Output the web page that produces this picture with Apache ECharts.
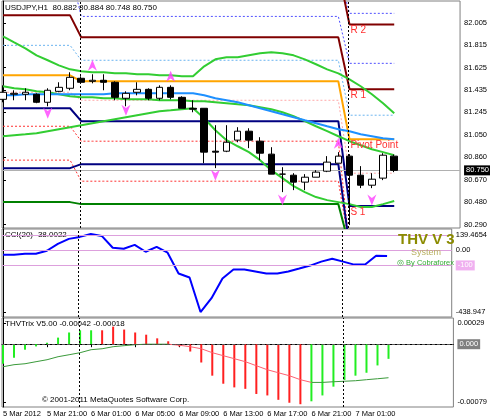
<!DOCTYPE html>
<html><head><meta charset="utf-8">
<script src="https://cdn.jsdelivr.net/npm/echarts@6/dist/echarts.min.js"></script>
<style>html,body{margin:0;padding:0;background:#fff}#c{width:490px;height:420px}</style>
</head><body><div id="c"></div>
<script>
// ---- data ----
const timeLabels = ["5 Mar 2012","5 Mar 21:00","6 Mar 01:00","6 Mar 05:00","6 Mar 09:00","6 Mar 13:00","6 Mar 17:00","6 Mar 21:00","7 Mar 01:00"];
const timeLabelBars = [0,4,8,12,16,20,24,28,32];
// [open, close, low, high]
const candles = [
[81.354,81.414,81.329,81.473],[81.397,81.405,81.346,81.431],[81.397,81.414,81.346,81.448],[81.397,81.329,81.321,81.405],
[81.329,81.431,81.295,81.448],[81.422,81.456,81.414,81.499],[81.448,81.541,81.431,81.584],[81.533,81.499,81.499,81.550],
[81.507,81.516,81.490,81.567],[81.516,81.499,81.431,81.567],[81.499,81.371,81.346,81.507],[81.363,81.405,81.295,81.422],
[81.414,81.439,81.388,81.499],[81.439,81.363,81.346,81.448],[81.363,81.456,81.346,81.473],[81.456,81.371,81.354,81.473],
[81.371,81.278,81.278,81.380],[81.278,81.270,81.244,81.346],[81.278,80.905,80.811,81.278],[80.913,80.905,80.769,81.134],
[80.913,80.989,80.905,81.134],[81.007,81.083,80.989,81.117],[81.083,81.007,80.939,81.108],[80.998,80.896,80.837,81.032],
[80.888,80.718,80.718,80.947],[80.718,80.718,80.565,80.777],[80.709,80.650,80.582,80.726],[80.650,80.692,80.582,80.718],
[80.692,80.735,80.692,80.752],[80.743,80.820,80.735,80.871],[80.811,80.871,80.811,80.905],[80.871,80.709,80.285,80.888],
[80.709,80.624,80.599,80.786],[80.624,80.675,80.599,80.726],[80.684,80.879,80.667,80.896],[80.871,80.750,80.735,80.884]];
const bandUpper = [81.889,81.838,81.788,81.728,81.686,81.643,81.609,81.592,81.584,81.584,81.575,81.575,81.567,81.567,81.558,81.558,81.550,81.550,81.635,81.694,81.711,81.711,81.728,81.745,81.754,81.745,81.728,81.694,81.652,81.609,81.575,81.524,81.465,81.397,81.321,81.236];
const bandMiddle = [81.465,81.448,81.439,81.422,81.414,81.397,81.380,81.371,81.371,81.363,81.363,81.354,81.354,81.354,81.346,81.346,81.346,81.337,81.337,81.329,81.321,81.312,81.304,81.287,81.270,81.244,81.210,81.168,81.125,81.083,81.040,80.998,80.964,80.930,80.905,80.879];
const bandLower = [81.040,81.049,81.057,81.066,81.083,81.100,81.117,81.134,81.151,81.168,81.185,81.202,81.219,81.236,81.253,81.261,81.270,81.278,81.193,81.091,81.007,80.955,80.905,80.837,80.752,80.684,80.616,80.565,80.523,80.497,80.480,80.463,80.438,80.438,80.463,80.489];
const maLine = [81.388,81.388,81.397,81.397,81.397,81.397,81.397,81.397,81.397,81.397,81.405,81.405,81.405,81.405,81.405,81.405,81.405,81.405,81.388,81.363,81.346,81.329,81.304,81.278,81.253,81.227,81.202,81.176,81.151,81.125,81.100,81.083,81.057,81.040,81.023,81.015];
const barDay = [0,0,0,0,0,0,0, 1,1,1,1,1,1,1,1,1,1,1,1,1,1,1,1,1,1,1,1,1,1,1,1, 2,2,2,2,2];
const lvR2   = [82.45, 82.45, 81.990];
const lvM5   = [82.45, 82.45, 82.085];
const lvM4   = [82.45, 82.059, 81.660];
const lvR1   = [82.068, 81.881, 81.439];
const lvM3   = [81.813, 81.686, 81.219];
const lvP    = [81.558, 81.507, 81.015];
const lvM2   = [81.414, 81.346, 80.726];
const lvS1   = [81.278, 81.168, 80.446];
const lvM1   = [81.125, 80.998, 80.10];
const lvS2   = [80.769, 80.803, 80.10];
const lvM0   = [80.837, 80.658, 80.10];
const lvS3   = [80.480, 80.463, 80.10];
const upArrows = [[8,81.643],[15,81.550],[30,80.981]];
const downArrows = [[4,81.236],[11,81.261],[19,80.709],[25,80.497],[33,80.497]];
const lastPrice = 80.750;
const daySep = [6.9, 30.9];
const priceTicks = [82.005,81.815,81.625,81.435,81.245,81.050,80.860,80.670,80.480,80.290];
const cci = [-29.5,-29.5,-23.0,-23.0,-3.5,42.0,74.5,87.5,107.0,94.0,16.0,9.5,35.5,-10.0,22.5,-16.5,-152.9,-178.9,-406.4,-315.4,-185.4,-126.9,-126.9,-139.9,-152.9,-152.9,-139.9,-120.5,-100.9,-75.0,-55.5,-75.0,-94.5,-94.5,-36.0,-38.0];
const cciLevels = [100, 0, -100];
const trixHist = [-0.000267,-0.000185,-0.000075,-0.00003,0.00002,0.00009,0.00016,0.00019,0.00019,0.00019,0.00024,0.0002,0.00016,0.00013,0.00008,0.00004,-0.00003,-0.0001,-0.00025,-0.00043,-0.00054,-0.00059,-0.00061,-0.00068,-0.0007,-0.00076,-0.0008,-0.00082,-0.00078,-0.0007,-0.00058,-0.00049,-0.00043,-0.00039,-0.00029,-0.0002];
const trixUp = [1,1,1,1,1,1,1,1,1,0,0,0,0,0,0,0,0,0,0,0,0,0,0,0,0,0,0,0,1,1,1,1,1,1,1,1];
const trixSignal = [-0.000308,-0.00028,-0.000267,-0.000239,-0.000212,-0.000171,-0.000144,-0.000116,-0.000075,-0.000062,-0.000034,-0.00002,-0.000007,0,0,0,-0.000014,-0.000034,-0.000062,-0.000116,-0.000157,-0.000198,-0.000239,-0.000294,-0.000349,-0.00039,-0.000431,-0.000485,-0.000522,-0.000522,-0.000513,-0.000506,-0.000499,-0.000485,-0.000472,-0.000458];
const trixSignalUp = [1,1,1,1,1,1,1,1,1,1,1,1,1,1,1,1,0,0,0,0,0,0,0,0,0,0,0,0,1,1,1,1,1,1,1,1];

// ---- chart ----
const F = '"Liberation Sans", Arial, sans-serif';
const chart = echarts.init(document.getElementById('c'), null, {renderer:'canvas'});
const XMIN = -0.09, XMAX = 40.89;
const grids = [
  {left:2, right:29, top:1, height:227},
  {left:2, right:29, top:229, height:88},
  {left:2, right:29, top:318, height:89}
];
function xAx(i, show){
  return {type:'value', gridIndex:i, min:XMIN, max:XMAX, splitLine:{show:false},
    axisLine:{show:show, lineStyle:{color:'#000'}}, axisTick:{show:show, customValues:timeLabelBars, length:3, lineStyle:{color:'#000'}},
    axisLabel:{show:show, customValues:timeLabelBars, showMinLabel:true, hideOverlap:false, align:'left', margin:3, fontSize:7.5, color:'#000', fontFamily:F,
      formatter:v=>timeLabels[timeLabelBars.indexOf(Math.round(v))]||''}};
}
const yLab = {fontSize:7.5, color:'#000', fontFamily:F, margin:4};
const yAxes = [
  {type:'value', gridIndex:0, position:'right', min:80.26, max:82.19, splitLine:{show:false},
   axisLine:{show:true,lineStyle:{color:'#000'}}, axisTick:{show:true,length:3,customValues:priceTicks},
   axisLabel:Object.assign({customValues:priceTicks, formatter:v=>v.toFixed(3)}, yLab)},
  {type:'value', gridIndex:1, position:'right', min:-438.947, max:139.4654, splitLine:{show:false},
   axisLine:{show:true,lineStyle:{color:'#000'}}, axisTick:{show:true,length:3,customValues:[100,0,-100,-406]},
   axisLabel:Object.assign({customValues:[100,0,-100,-406],
     formatter:v=>({100:'139.4654',0:'0.00','-100':'{p|-100}','-406':'-438.947'})[Math.round(v)]||'',
     rich:{p:{backgroundColor:'#f0b0f0', color:'#fff', fontSize:7.5, padding:[1,2]}}}, yLab)},
  {type:'value', gridIndex:2, position:'right', min:-0.000858, max:0.000358, splitLine:{show:false},
   axisLine:{show:true,lineStyle:{color:'#000'}}, axisTick:{show:true,length:3,customValues:[0.00029,0,-0.00079]},
   axisLabel:Object.assign({customValues:[0.00029,0,-0.00079], formatter:v=>Math.abs(v)<1e-9?'{g|0.000}':v.toFixed(5),
     rich:{g:{backgroundColor:'#808080', color:'#fff', fontSize:7.5, padding:[1,2]}}}, yLab)}
];
const idx = candles.map((_,i)=>i);
function pivotSeries(levels, color, width, type){
  return {type:'line', xAxisIndex:0, yAxisIndex:0, symbol:'none', silent:true, clip:true,
    data: idx.map(i=>[i, levels[barDay[i]]]), lineStyle:{color, width, type}, z:2};
}
function lineSeries(arr, color, width, gi){
  return {type:'line', xAxisIndex:gi, yAxisIndex:gi, symbol:'none', silent:true, clip:true,
    data: arr.map((v,i)=>[i,v]), lineStyle:{color, width}, z:3};
}
function sepLine(gi){
  return {type:'line', xAxisIndex:gi, yAxisIndex:gi, data:[], silent:true,
    markLine:{symbol:'none', silent:true, label:{show:false}, lineStyle:{color:'#000', type:[2,2], width:1},
      data: daySep.map(x=>({xAxis:x}))}};
}
const series = [
  pivotSeries(lvM5, '#5050ff', 1, [2,2]),
  pivotSeries(lvM4, '#5050ff', 1, [2,2]),
  pivotSeries(lvM3, '#6ab4f0', 1, [2,2]),
  pivotSeries(lvM2, '#ffa8a8', 1, [2,2]),
  pivotSeries(lvM1, '#ff3030', 1, [2,2]),
  pivotSeries(lvM0, '#ff3030', 1, [2,2]),
  pivotSeries(lvR2, '#800000', 2, 'solid'),
  pivotSeries(lvR1, '#800000', 2, 'solid'),
  pivotSeries(lvP, '#ffa500', 2, 'solid'),
  pivotSeries(lvS1, '#000080', 2, 'solid'),
  pivotSeries(lvS2, '#000080', 2, 'solid'),
  pivotSeries(lvS3, '#008000', 2, 'solid'),
  lineSeries(bandUpper, '#32cd32', 2, 0),
  lineSeries(bandMiddle, '#32cd32', 2, 0),
  lineSeries(bandLower, '#32cd32', 2, 0),
  lineSeries(maLine, '#1e90ff', 2, 0),
  {type:'candlestick', xAxisIndex:0, yAxisIndex:0, barWidth:7, z:5,
   data: candles.map((c,i)=>[i].concat(c)),
   itemStyle:{color:'#fff', color0:'#000', borderColor:'#000', borderColor0:'#000', borderWidth:1},
   markLine:{symbol:'none', silent:true, lineStyle:{color:'#b0b0b0', type:'solid', width:1},
     label:{position:'end', formatter:lastPrice.toFixed(3), backgroundColor:'#000', color:'#fff', fontSize:7.5, fontFamily:F, padding:[1,2], distance:4},
     data:[{yAxis:lastPrice}]}},
  {type:'scatter', xAxisIndex:0, yAxisIndex:0, z:6, data:upArrows, symbol:'path://M5,0 L10,10 L5,7 L0,10 Z', symbolSize:[9,11],
   itemStyle:{color:'#ff40ff'}},
  {type:'scatter', xAxisIndex:0, yAxisIndex:0, z:6, data:downArrows, symbol:'path://M5,0 L10,10 L5,7 L0,10 Z', symbolSize:[9,11], symbolRotate:180,
   itemStyle:{color:'#ff40ff'}},
  sepLine(0),
  {type:'line', xAxisIndex:1, yAxisIndex:1, symbol:'none', data:cci.map((v,i)=>[i,v]), lineStyle:{color:'#0000ff', width:2}, z:3,
   markLine:{symbol:'none', silent:true, label:{show:false}, lineStyle:{color:'#dda0dd', type:'solid', width:1}, data:cciLevels.map(v=>({yAxis:v}))}},
  sepLine(1),
  {type:'bar', xAxisIndex:2, yAxisIndex:2, barWidth:2, data:trixHist.map((v,i)=>({value:[i,v], itemStyle:{color: trixUp[i]?'#22ee22':'#ff2020'}})),
   markLine:{symbol:'none', silent:true, label:{show:false}, lineStyle:{color:'#555', type:[3,2], width:1}, data:[{yAxis:0}]}},
  {type:'line', xAxisIndex:2, yAxisIndex:2, symbol:'none', z:4, data:trixSignal.map((v,i)=>[i, trixSignalUp[i] ? v : null]), lineStyle:{color:'#3a9a3a', width:1}},
  {type:'line', xAxisIndex:2, yAxisIndex:2, symbol:'none', z:4, data:trixSignal.map((v,i)=>[i, (!trixSignalUp[i] || (i>0&&!trixSignalUp[i-1]) || (i<35&&!trixSignalUp[i+1]))? v : null]), lineStyle:{color:'#ff6070', width:1}},
  sepLine(2)
];
const baseGraphic = [
  {type:'text', id:'t1', left:5, top:4, style:{text:'USDJPY,H1  80.882 80.884 80.748 80.750', font:'8px '+F, fill:'#000'}},
  {type:'text', id:'t2', left:5, top:231, style:{text:'CCI(20) -38.0022', font:'8px '+F, fill:'#000'}},
  {type:'text', id:'t3', left:398, top:232, z:10, style:{text:'THV V 3', font:'bold 15px '+F, fill:'#8b8b00'}},
  {type:'text', id:'t4', left:411, top:248, z:10, style:{text:'System', font:'9px '+F, fill:'#b8b060'}},
  {type:'text', id:'t5', left:397, top:259, z:10, style:{text:'◎ By Cobraforex', font:'7.5px '+F, fill:'#33aa33'}},
  {type:'text', id:'t6', left:5, top:320, style:{text:'THVTrix V5.00 -0.00042 -0.00018', font:'8px '+F, fill:'#000'}},
  {type:'text', id:'t7', left:42, top:396, style:{text:'© 2001-2011 MetaQuotes Software Corp.', font:'8px '+F, fill:'#000'}}
];
chart.setOption({
  animation:false,
  backgroundColor:'#fff',
  grid: grids.map(g=>Object.assign({show:true, borderColor:'#808080', borderWidth:1, backgroundColor:'#fff'}, g)),
  xAxis:[xAx(0,false), xAx(1,false), xAx(2,true)],
  yAxis:yAxes,
  series:series,
  graphic:baseGraphic
});
const lblDefs = [['R 2', lvR2[2]], ['R 1', lvR1[2]], ['Pivot Point', lvP[2]], ['S 1', lvS1[2]]];
const extra = lblDefs.map(([t,v],k)=>{
  const p = chart.convertToPixel({xAxisIndex:0, yAxisIndex:0}, [daySep[1], v]);
  return {type:'text', id:'pl'+k, x:p[0]+2, y:p[1]+1, z:10, style:{text:t, font:'10px '+F, fill:'#ff3030'}};
});
chart.setOption({graphic: baseGraphic.concat(extra)});
</script></body></html>
